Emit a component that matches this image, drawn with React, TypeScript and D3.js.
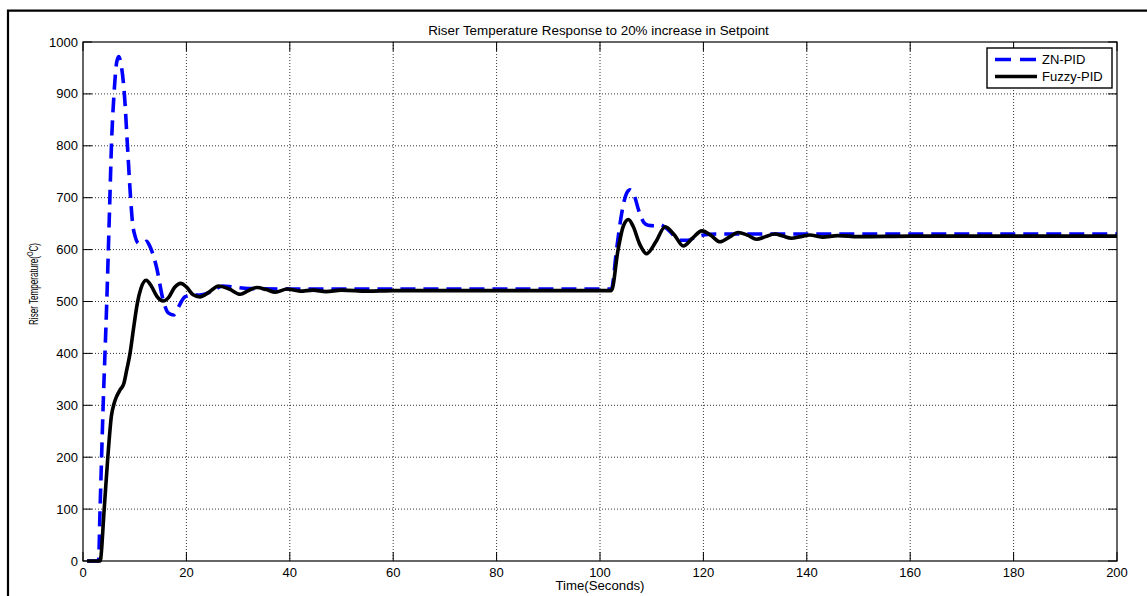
import React from "react";
import * as d3 from "d3";

const W = 1147;
const H = 596;
const FONT = "'Liberation Sans', Arial, Helvetica, sans-serif";

const titleText = "Riser Temperature Response to 20% increase in Setpoint";
const xLabelText = "Time(Seconds)";
const seriesNames = ["ZN-PID", "Fuzzy-PID"];
const xTicks = [0, 20, 40, 60, 80, 100, 120, 140, 160, 180, 200];
const yTicks = [0, 100, 200, 300, 400, 500, 600, 700, 800, 900, 1000];

// ZN-PID (blue dashed)
const znTime = [0.8, 3.0, 3.3, 3.9, 4.6, 5.2, 5.5, 6.0, 6.5, 6.9, 7.3, 8.0, 8.6, 9.2, 9.6, 10.1, 10.8, 11.5, 12.3, 13.0, 14.2, 15.5, 16.5, 17.5, 18.5, 19.7, 21, 23, 25, 27, 29, 32, 40, 60, 80, 100, 102.2, 103.2, 104.2, 105.0, 105.8, 106.6, 107.5, 108.5, 109.3, 110.5, 111.6, 113.0, 114.5, 115.5, 117.0, 118.5, 120, 123, 140, 160, 180, 200];
const znTemp = [0, 0, 100, 300, 500, 700, 800, 900, 960, 972, 960, 900, 800, 700, 650, 625, 612, 612, 616, 605, 567, 503, 478, 474, 490, 509, 512, 513, 520, 530, 528, 525, 524, 524, 524, 524, 524, 600, 670, 705, 715, 705, 675, 652, 647, 646, 648, 640, 625, 618, 618, 624, 628, 630, 630, 630, 630, 630];

// Fuzzy-PID (black solid)
const fzTime = [0.8, 3.3, 4.1, 4.8, 5.5, 6.0, 6.5, 7.2, 7.9, 8.5, 9.1, 9.8, 10.5, 11.2, 12.2, 13.2, 14.3, 15.5, 16.5, 17.7, 18.9, 20.0, 21.3, 22.6, 24.4, 26.2, 28.3, 30.4, 32.0, 33.6, 35.5, 37.2, 39.5, 42, 44.5, 47, 50, 55, 60, 70, 80, 90, 100, 102.2, 103.5, 104.5, 105.5, 106.4, 107.7, 109.0, 110.8, 112.6, 114.4, 116.1, 117.9, 119.7, 121.5, 123.2, 125.0, 126.7, 128.5, 130.3, 132.0, 133.8, 135.4, 137.0, 138.8, 140.6, 143, 146, 150, 160, 180, 200];
const fzTemp = [0, 0, 100, 200, 280, 303, 317, 330, 342, 370, 400, 450, 496, 525, 541, 530, 510, 501, 507, 527, 535, 528, 513, 509, 518, 530, 524, 514, 521, 527, 523, 518, 524, 520, 522, 519, 522, 520, 521, 521, 521, 521, 521, 521, 600, 645, 658, 645, 610, 592, 615, 644, 628, 607, 622, 636, 627, 615, 624, 633, 628, 620, 625, 630, 626, 622, 625, 628, 624, 627, 625, 626, 626, 626];

const M = { left: 83, top: 42, right: 1117, bottom: 561 };

export default function App() {
  const x = d3.scaleLinear().domain([0, 200]).range([M.left, M.right]);
  const y = d3.scaleLinear().domain([0, 1000]).range([M.bottom, M.top]);
  const line = d3
    .line<[number, number]>()
    .x((d) => x(d[0]))
    .y((d) => y(d[1]))
    .curve(d3.curveMonotoneX);
  const znPath = line(znTime.map((t, i) => [t, znTemp[i]]) as [number, number][]) || "";
  const fzPath = line(fzTime.map((t, i) => [t, fzTemp[i]]) as [number, number][]) || "";
  const tickLen = 9;
  const cx = (M.left + M.right) / 2;

  return (
    <svg
      width={W}
      height={H}
      style={{ position: "absolute", left: 0, top: 0, background: "#fff" }}
      fontFamily={FONT}
    >
      <rect x={0} y={0} width={W} height={H} fill="#fff" />
      {/* outer frame */}
      <path d={`M8,${H + 5} V10.7 H${W + 5}`} fill="none" stroke="#000" strokeWidth={2.2} />
      {/* grid */}
      <g stroke="#000" strokeWidth={0.8} strokeDasharray="1,2">
        {xTicks.slice(1, -1).map((t) => (
          <line key={"gx" + t} x1={x(t)} x2={x(t)} y1={M.top} y2={M.bottom} />
        ))}
        {yTicks.slice(1, -1).map((t) => (
          <line key={"gy" + t} x1={M.left} x2={M.right} y1={y(t)} y2={y(t)} />
        ))}
      </g>
      {/* ticks */}
      <g stroke="#000" strokeWidth={1}>
        {xTicks.map((t) => (
          <g key={"tx" + t}>
            <line x1={x(t)} x2={x(t)} y1={M.bottom} y2={M.bottom - tickLen} />
            <line x1={x(t)} x2={x(t)} y1={M.top} y2={M.top + tickLen} />
          </g>
        ))}
        {yTicks.map((t) => (
          <g key={"ty" + t}>
            <line x1={M.left} x2={M.left + tickLen} y1={y(t)} y2={y(t)} />
            <line x1={M.right} x2={M.right - tickLen} y1={y(t)} y2={y(t)} />
          </g>
        ))}
      </g>
      {/* data */}
      <path d={znPath} fill="none" stroke="#0000ff" strokeWidth={3.6} strokeDasharray="15,8" />
      <path d={fzPath} fill="none" stroke="#000" strokeWidth={3.6} strokeLinejoin="round" />
      {/* axes box */}
      <rect
        x={M.left}
        y={M.top}
        width={M.right - M.left}
        height={M.bottom - M.top}
        fill="none"
        stroke="#000"
        strokeWidth={1.2}
      />
      {/* tick labels */}
      <g fontSize={13} fill="#000">
        {xTicks.map((t) => (
          <text key={"lx" + t} x={x(t)} y={577} textAnchor="middle">
            {t}
          </text>
        ))}
        {yTicks.map((t) => (
          <text key={"ly" + t} x={78} y={y(t) + 4.5} textAnchor="end">
            {t}
          </text>
        ))}
      </g>
      {/* title and labels */}
      <text x={cx - 1.5} y={35} textAnchor="middle" fontSize={13.4} fill="#000">
        {titleText}
      </text>
      <text x={cx} y={590} textAnchor="middle" fontSize={13.2} fill="#000">
        {xLabelText}
      </text>
      <g transform="translate(37.5,284) rotate(-90)">
        <text
          x={0}
          y={0}
          textAnchor="middle"
          fontSize={12}
          fill="#000"
          textLength={82}
          lengthAdjust="spacingAndGlyphs"
        >
          Riser Temperature(
          <tspan dy={-5} fontSize={8.5}>O</tspan>
          <tspan dy={5}>C)</tspan>
        </text>
      </g>
      {/* legend */}
      <g>
        <rect x={987} y={48} width={125} height={40} fill="#fff" stroke="#000" strokeWidth={1.4} />
        <line x1={995} x2={1037} y1={59.5} y2={59.5} stroke="#0000ff" strokeWidth={3.6} strokeDasharray="16,9" />
        <line x1={995} x2={1037} y1={76.5} y2={76.5} stroke="#000" strokeWidth={3.6} />
        <text x={1042} y={64} fontSize={13} fill="#000">{seriesNames[0]}</text>
        <text x={1042} y={81} fontSize={13} fill="#000">{seriesNames[1]}</text>
      </g>
    </svg>
  );
}
